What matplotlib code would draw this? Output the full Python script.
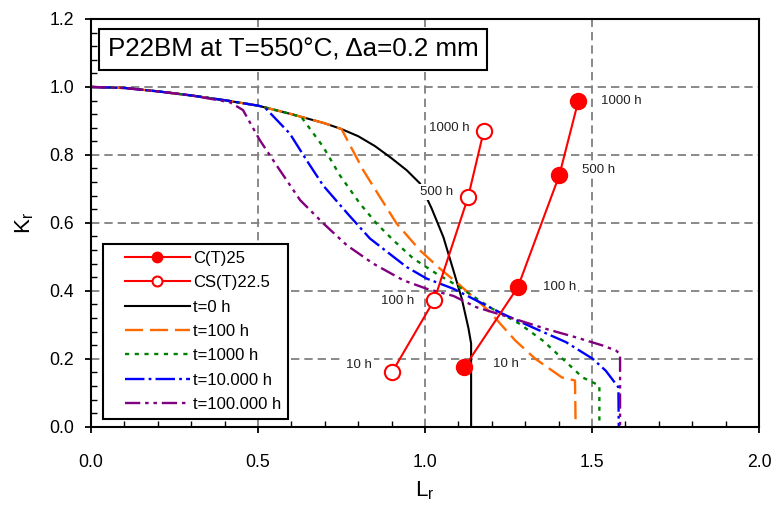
import matplotlib
matplotlib.use('Agg')
import matplotlib.pyplot as plt
from matplotlib.ticker import MultipleLocator, AutoMinorLocator, FormatStrFormatter
from matplotlib.lines import Line2D
from matplotlib.legend_handler import HandlerLine2D

plt.rcParams['font.family'] = ['Liberation Sans', 'DejaVu Sans']
plt.rcParams['mathtext.default'] = 'regular'
plt.rcParams['lines.scale_dashes'] = False

# failure assessment curves (Lr, Kr)
lr_t0 = [0, 0.1, 0.2, 0.3, 0.4, 0.5, 0.6, 0.7, 0.75, 0.8, 0.85, 0.9, 0.945, 0.985,
         1.02, 1.055, 1.085, 1.11, 1.13, 1.138, 1.138]
kr_t0 = [1.0, 0.997, 0.987, 0.975, 0.961, 0.945, 0.920, 0.893, 0.876, 0.855, 0.826,
         0.79, 0.755, 0.716, 0.642, 0.558, 0.46, 0.377, 0.29, 0.245, 0.0]

lr_t100 = [0, 0.1, 0.2, 0.3, 0.4, 0.5, 0.6, 0.7, 0.75, 0.78, 0.815, 0.865, 0.915,
           0.985, 1.045, 1.105, 1.19, 1.27, 1.33, 1.41, 1.449, 1.451]
kr_t100 = [1.0, 0.997, 0.987, 0.975, 0.961, 0.945, 0.920, 0.893, 0.876, 0.82, 0.755,
           0.676, 0.598, 0.519, 0.465, 0.416, 0.342, 0.254, 0.200, 0.145, 0.136, 0.0]

lr_t1000 = [0, 0.1, 0.2, 0.3, 0.4, 0.5, 0.6, 0.63, 0.695, 0.745, 0.805, 0.855, 0.905,
            0.965, 1.035, 1.095, 1.193, 1.283, 1.352, 1.412, 1.472, 1.522, 1.522]
kr_t1000 = [1.0, 0.997, 0.987, 0.975, 0.961, 0.945, 0.920, 0.911, 0.824, 0.740, 0.657,
            0.598, 0.549, 0.495, 0.450, 0.416, 0.352, 0.303, 0.254, 0.200, 0.145, 0.121, 0.0]

lr_t10k = [0, 0.1, 0.2, 0.3, 0.4, 0.5, 0.52, 0.595, 0.645, 0.695, 0.77, 0.835, 0.945,
           1.005, 1.085, 1.233, 1.332, 1.422, 1.502, 1.541, 1.579, 1.580]
kr_t10k = [1.0, 0.997, 0.987, 0.975, 0.961, 0.945, 0.940, 0.863, 0.785, 0.710, 0.625,
           0.554, 0.470, 0.436, 0.406, 0.332, 0.288, 0.249, 0.200, 0.165, 0.116, 0.0]

lr_t100k = [0, 0.1, 0.2, 0.3, 0.416, 0.455, 0.505, 0.555, 0.626, 0.696, 0.766, 0.845,
            0.935, 1.005, 1.085, 1.153, 1.253, 1.362, 1.452, 1.532, 1.572, 1.584, 1.584]
kr_t100k = [1.0, 0.997, 0.987, 0.975, 0.955, 0.932, 0.844, 0.770, 0.667, 0.598, 0.534,
            0.480, 0.431, 0.406, 0.385, 0.352, 0.322, 0.288, 0.263, 0.239, 0.224, 0.214, 0.0]

# assessment points
ct_lr = [1.118, 1.278, 1.402, 1.459]
ct_kr = [0.175, 0.411, 0.740, 0.959]
cs_lr = [0.901, 1.028, 1.129, 1.176]
cs_kr = [0.160, 0.374, 0.676, 0.871]

# time labels next to the points
lab_text = ['10 h', '100 h', '500 h', '1000 h', '10 h', '100 h', '500 h', '1000 h']
lab_lr = [0.841, 0.868, 0.985, 1.012, 1.204, 1.353, 1.470, 1.527]
lab_kr = [0.183, 0.369, 0.690, 0.879, 0.186, 0.410, 0.755, 0.959]
lab_ha = ['right', 'left', 'left', 'left', 'left', 'left', 'left', 'left']

fig = plt.figure(figsize=(7.78, 5.08), dpi=100)
ax = fig.add_axes([0.117, 0.160, 0.8586, 0.8026])

h0, = ax.plot(lr_t0, kr_t0, color='black', lw=1.5, label='t=0 h')
h1, = ax.plot(lr_t100, kr_t100, color='#FF6A00', lw=1.7, dashes=(13, 5), label='t=100 h')
h2, = ax.plot(lr_t1000, kr_t1000, color='#008000', lw=1.7, dashes=(3, 4), label='t=1000 h')
h3, = ax.plot(lr_t10k, kr_t10k, color='#0000FF', lw=1.7, dashes=(14, 3, 2, 3),
              label='t=10.000 h')
h4, = ax.plot(lr_t100k, kr_t100k, color='#800080', lw=1.7, dashes=(11, 3.5, 2.5, 3.5, 2.5, 3.5),
              label='t=100.000 h')

hc, = ax.plot(ct_lr, ct_kr, color='red', lw=1.5, marker='o', ms=11.5, mfc='red', mec='red',
              label='C(T)25', zorder=6)
hs, = ax.plot(cs_lr, cs_kr, color='red', lw=1.5, marker='o', ms=11, mfc='white', mec='red',
              mew=1.5, label='CS(T)22.5', zorder=6)

for x, y, t, ha in zip(lab_lr, lab_kr, lab_text, lab_ha):
    ax.text(x, y, t, ha=ha, va='center', fontsize=9.5, color='#222222', zorder=5,
            bbox=dict(facecolor='white', edgecolor='none', pad=1.5))

ax.text(0.3024, 0.925, 'P22BM at T=550°C, \u0394a=0.2 mm', transform=ax.transAxes,
        ha='center', va='center', fontsize=18.7, zorder=10,
        bbox=dict(boxstyle='square,pad=0.33', facecolor='white', edgecolor='black', lw=1.5))

ax.set_xlim(0, 2.0)
ax.set_ylim(0, 1.2)
ax.xaxis.set_major_locator(MultipleLocator(0.5))
ax.yaxis.set_major_locator(MultipleLocator(0.2))
ax.xaxis.set_minor_locator(AutoMinorLocator(5))
ax.yaxis.set_minor_locator(AutoMinorLocator(5))
ax.xaxis.set_major_formatter(FormatStrFormatter('%.1f'))
ax.yaxis.set_major_formatter(FormatStrFormatter('%.1f'))

ax.set_axisbelow(True)
ax.grid(True, which='major', color='#808080', linestyle=(0, (6, 3.6)), lw=1.3)
for sp in ax.spines.values():
    sp.set_linewidth(1.5)
    sp.set_color('black')

ax.tick_params(which='major', direction='out', length=4, width=1.3, labelsize=12.7)
ax.tick_params(axis='x', which='major', pad=16)
ax.tick_params(axis='y', which='major', pad=8)
ax.tick_params(which='minor', direction='in', length=4, width=1)

ax.set_xlabel('L$_r$', fontsize=16, labelpad=6)
ax.set_ylabel('K$_r$', fontsize=16, labelpad=10)

leg = ax.legend(handles=[hc, hs, h0, h1, h2, h3, h4], loc='lower left',
                bbox_to_anchor=(0.018, 0.02), borderaxespad=0, fontsize=12,
                handlelength=4.8, handletextpad=0.2, labelspacing=0.56, borderpad=0.4,
                markerscale=0.65, fancybox=False, framealpha=1, edgecolor='black',
                handler_map={Line2D: HandlerLine2D(xpad=0.9)})
leg.get_frame().set_linewidth(1.5)
leg.set_zorder(10)

fig.savefig('out.png', dpi=100)
